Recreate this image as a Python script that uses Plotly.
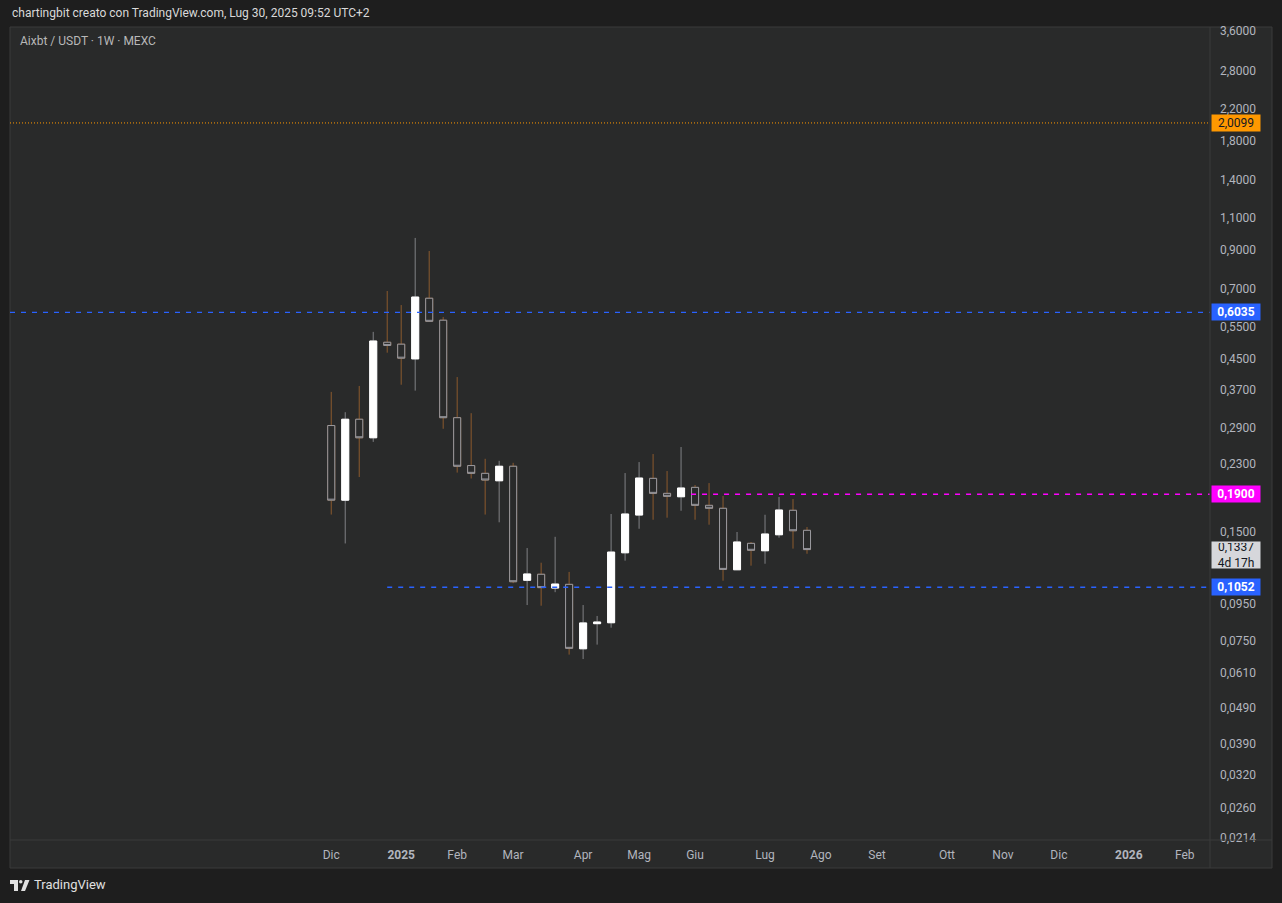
import numpy as np
import pandas as pd
import plotly.graph_objects as go

# ---------------- data (weekly candles, AIXBT/USDT, MEXC) ----------------
dates = ["2024-12-02", "2024-12-09", "2024-12-16", "2024-12-23", "2024-12-30",
         "2025-01-06", "2025-01-13", "2025-01-20", "2025-01-27", "2025-02-03",
         "2025-02-10", "2025-02-17", "2025-02-24", "2025-03-03", "2025-03-10",
         "2025-03-17", "2025-03-24", "2025-03-31", "2025-04-07", "2025-04-14",
         "2025-04-21", "2025-04-28", "2025-05-05", "2025-05-12", "2025-05-19",
         "2025-05-26", "2025-06-02", "2025-06-09", "2025-06-16", "2025-06-23",
         "2025-06-30", "2025-07-07", "2025-07-14", "2025-07-21", "2025-07-28"]
opens = [0.294, 0.183, 0.306, 0.272, 0.499, 0.493, 0.449, 0.660, 0.574, 0.309,
         0.228, 0.217, 0.207, 0.227, 0.110, 0.1143, 0.1047, 0.1072, 0.0712, 0.0835,
         0.0840, 0.1310, 0.1665, 0.2102, 0.1911, 0.1870, 0.1985, 0.1771, 0.1738, 0.1176,
         0.1391, 0.1327, 0.1469, 0.1716, 0.1511]
highs = [0.364, 0.320, 0.378, 0.533, 0.691, 0.632, 0.968, 0.891, 0.586, 0.400,
         0.318, 0.238, 0.235, 0.232, 0.135, 0.123, 0.145, 0.116, 0.094, 0.0877,
         0.1676, 0.2174, 0.2331, 0.2453, 0.2202, 0.2565, 0.2015, 0.2040, 0.1879, 0.1495,
         0.1403, 0.1668, 0.1867, 0.1843, 0.1543]
lows = [0.167, 0.139, 0.212, 0.265, 0.467, 0.381, 0.367, 0.568, 0.288, 0.218,
        0.210, 0.167, 0.159, 0.108, 0.094, 0.0936, 0.102, 0.0686, 0.0667, 0.0731,
        0.0814, 0.1246, 0.1526, 0.1616, 0.1637, 0.1711, 0.1616, 0.1566, 0.1097, 0.1174,
        0.1207, 0.1222, 0.1442, 0.1345, 0.1302]
closes = [0.183, 0.306, 0.272, 0.503, 0.489, 0.451, 0.665, 0.570, 0.309, 0.227,
          0.217, 0.208, 0.227, 0.109, 0.1145, 0.1050, 0.1074, 0.0714, 0.0839, 0.0844,
          0.1316, 0.1676, 0.2106, 0.1911, 0.1875, 0.1977, 0.1771, 0.1738, 0.1179, 0.1403,
          0.1331, 0.1476, 0.1719, 0.1507, 0.1337]

countdown = "4d 17h"

# horizontal levels drawn on the chart
level_values = [2.0099, 0.6035, 0.19, 0.1052]
level_starts = [None, None, "2025-05-31", "2024-12-30"]
level_colors = ["#ff9800", "#2962ff", "#ff00ff", "#2962ff"]
level_dashes = ["1px,2px", "5px,6px", "5px,6px", "5px,6px"]
level_widths = [1, 1.3, 1.5, 1.4]
level_label_fg = ["#131722", "#ffffff", "#ffffff", "#ffffff"]
level_label_bold = [False, True, True, True]

# axes ticks
y_tick_values = [3.6, 2.8, 2.2, 1.8, 1.4, 1.1, 0.9, 0.7, 0.55, 0.45, 0.37, 0.29,
                 0.23, 0.15, 0.095, 0.075, 0.061, 0.049, 0.039, 0.032, 0.026, 0.0214]
x_tick_dates = ["2024-12-02", "2025-01-06", "2025-02-03", "2025-03-03", "2025-04-07",
                "2025-05-05", "2025-06-02", "2025-07-07", "2025-08-04", "2025-09-01",
                "2025-10-06", "2025-11-03", "2025-12-01", "2026-01-05", "2026-02-02"]
x_tick_labels = ["Dic", "<b>2025</b>", "Feb", "Mar", "Apr", "Mag", "Giu", "Lug", "Ago",
                 "Set", "Ott", "Nov", "Dic", "<b>2026</b>", "Feb"]

# ---------------- style ----------------
OUTER_BG = "#1e1e1e"
PANEL_BG = "#292a2a"
BORDER = "#3a3b3b"
TXT = "#b2b5be"
UP_BODY = "#ffffff"
UP_WICK = "#808285"
DN_BORDER = "#9a9aa0"
DN_WICK = "#8c5a2d"
FONT = "Roboto"

W, H = 1282, 903
PL, PR, PT, PB = 10, 1210, 27, 840


def px(x):
    return (x - PL) / (PR - PL)


def py(y):
    return (PB - y) / (PB - PT)


x0 = pd.Timestamp("2024-12-02") - pd.Timedelta(days=160.7)
x1 = pd.Timestamp("2024-12-02") + pd.Timedelta(days=439.6)
y_range = [np.log10(0.02113), np.log10(3.697)]

fig = go.Figure()

# wicks (full OHLC, wick colours)
fig.add_trace(go.Candlestick(
    x=dates, open=opens, high=highs, low=lows, close=closes,
    increasing=dict(line=dict(color=UP_WICK, width=1), fillcolor=UP_BODY),
    decreasing=dict(line=dict(color=DN_WICK, width=1), fillcolor="rgba(0,0,0,0)"),
    hoverinfo="skip", showlegend=False))

# bodies on top (body border colours)
body_hi = np.maximum(opens, closes)
body_lo = np.minimum(opens, closes)
fig.add_trace(go.Candlestick(
    x=dates, open=opens, high=body_hi, low=body_lo, close=closes,
    increasing=dict(line=dict(color=UP_BODY, width=1), fillcolor=UP_BODY),
    decreasing=dict(line=dict(color=DN_BORDER, width=1), fillcolor=PANEL_BG),
    hoverinfo="skip", showlegend=False))

# horizontal levels
for v, s, c, d, w in zip(level_values, level_starts, level_colors, level_dashes, level_widths):
    start = x0 if s is None else pd.Timestamp(s)
    fig.add_trace(go.Scatter(x=[start, x1], y=[v, v], mode="lines",
                             line=dict(color=c, width=w, dash=d),
                             hoverinfo="skip", showlegend=False))

annotations = []


def fmt(v):
    return f"{v:.4f}".replace(".", ",")


for v, c, fg, b in zip(level_values, level_colors, level_label_fg, level_label_bold):
    t = fmt(v)
    if b:
        t = f"<b>{t}</b>"
    annotations.append(dict(xref="paper", yref="y", x=px(1211), y=np.log10(v),
                            xanchor="left", yanchor="middle", text=t, showarrow=False,
                            bgcolor=c, font=dict(color=fg, size=12, family=FONT),
                            width=46, height=14, borderpad=1, align="center"))

# last price label
annotations.append(dict(xref="paper", yref="y", x=px(1211), y=np.log10(closes[-1]),
                        xanchor="left", yanchor="top", yshift=9,
                        text=f"{fmt(closes[-1])}<br>{countdown}", showarrow=False,
                        bgcolor="#d6d7db", font=dict(color="#131722", size=12, family=FONT),
                        width=46, height=24, borderpad=1, align="center"))

# header texts
annotations.append(dict(xref="paper", yref="paper", x=px(10), y=py(13),
                        xanchor="left", yanchor="middle", showarrow=False,
                        text="chartingbit creato con TradingView.com, Lug 30, 2025 09:52 UTC+2",
                        font=dict(color="#d9d9d9", size=12, family=FONT)))
annotations.append(dict(xref="paper", yref="paper", x=px(18), y=py(41),
                        xanchor="left", yanchor="middle", showarrow=False,
                        text="Aixbt / USDT · 1W · MEXC",
                        font=dict(color="#b8b8b8", size=12, family=FONT)))
annotations.append(dict(xref="paper", yref="paper", x=px(32), y=py(885),
                        xanchor="left", yanchor="middle", showarrow=False,
                        text="TradingView",
                        font=dict(color="#e0e0e0", size=13, family=FONT)))

shapes = [
    # panel background + border
    dict(type="rect", xref="paper", yref="paper", x0=px(10), x1=px(1272), y0=py(868), y1=py(27),
         fillcolor=PANEL_BG, line=dict(color=BORDER, width=1), layer="below"),
    # price axis separator
    dict(type="line", xref="paper", yref="paper", x0=px(1210), x1=px(1210), y0=py(868), y1=py(27),
         line=dict(color=BORDER, width=1), layer="above"),
    # time axis separator
    dict(type="line", xref="paper", yref="paper", x0=px(10), x1=px(1272), y0=py(840), y1=py(840),
         line=dict(color=BORDER, width=1), layer="above"),
    # TradingView logo (approximate)
    dict(type="path", xref="paper", yref="paper",
         path=f"M {px(10)},{py(880)} L {px(18)},{py(880)} L {px(18)},{py(891)} L {px(14)},{py(891)} "
              f"L {px(14)},{py(884)} L {px(10)},{py(884)} Z",
         fillcolor="#e0e0e0", line=dict(width=0)),
    dict(type="circle", xref="paper", yref="paper", x0=px(19), x1=px(22.5), y0=py(883.5), y1=py(880),
         fillcolor="#e0e0e0", line=dict(width=0)),
    dict(type="path", xref="paper", yref="paper",
         path=f"M {px(25)},{py(880)} L {px(29.5)},{py(880)} L {px(25)},{py(891)} L {px(21)},{py(891)} Z",
         fillcolor="#e0e0e0", line=dict(width=0)),
]

fig.update_layout(
    width=W, height=H,
    margin=dict(l=PL, r=W - PR, t=PT, b=H - PB, pad=0),
    paper_bgcolor=OUTER_BG, plot_bgcolor=PANEL_BG,
    font=dict(family=FONT, size=12, color=TXT),
    separators=",.",
    showlegend=False, hovermode=False,
    boxgap=0.28,
    annotations=annotations, shapes=shapes,
    xaxis=dict(type="date", range=[x0, x1], tickvals=x_tick_dates, ticktext=x_tick_labels,
               showgrid=False, zeroline=False, showline=False, ticks="",
               tickfont=dict(size=12, color=TXT, family=FONT), ticklabelstandoff=6,
               rangeslider=dict(visible=False), fixedrange=True),
    yaxis=dict(type="log", side="right", range=y_range, tickvals=y_tick_values,
               tickformat=".4f", showgrid=False, zeroline=False, showline=False, ticks="",
               tickfont=dict(size=12, color=TXT, family=FONT), ticklabelstandoff=9,
               fixedrange=True),
)

fig.write_html("out.html", config={"displayModeBar": False},
               post_script="document.body.style.margin='0';"
                           "document.body.style.overflow='hidden';"
                           "document.body.style.background='" + OUTER_BG + "';")
